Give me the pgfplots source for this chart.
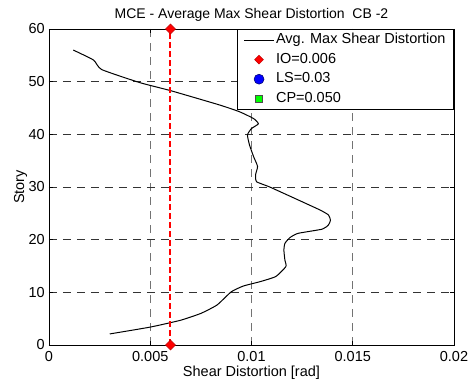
\documentclass[border=0pt]{standalone}
\usepackage{fontspec}
\setmainfont{Liberation Sans}
\usepackage{pgfplots}
\pgfplotsset{compat=1.18}
\pgfplotsset{
  linelegend/.style={legend image code/.code={\draw[##1] (0pt,0pt) -- (30pt,0pt);}},
  marklegend/.style={legend image code/.code={\draw[##1] plot coordinates {(15pt,0pt)};}},
}
\newcommand{\fs}{\fontsize{14.5}{17}\selectfont}
\begin{document}
\begin{tikzpicture}
\begin{axis}[
  scale only axis,
  width=405pt, height=316pt,
  xmin=0, xmax=0.02, ymin=0, ymax=60,
  xtick={0,0.005,0.01,0.015,0.02},
  xticklabels={0,0.005,0.01,0.015,0.02},
  ytick={0,10,20,30,40,50,60},
  /pgf/number format/assume math mode=true,
  tick label style={font=\fs},
  xticklabel style={anchor=base, yshift=-16.5pt, inner xsep=0pt},
  yticklabel style={inner xsep=0pt, xshift=-4pt},
  every axis title/.style={at={(axis description cs:0.5,1.0332)}, anchor=base, font=\fontsize{14}{17}\selectfont},
  every axis x label/.style={at={(axis description cs:0.5,-0.1006)}, anchor=base, font=\fs},
  every axis y label/.style={at={(axis description cs:-0.0617,0.5)}, rotate=90, anchor=base, font=\fs},
  title={MCE - Average Max Shear Distortion\ \ CB -2},
  xlabel={Shear Distortion [rad]},
  ylabel={Story},
  tick align=inside,
  major tick length=4pt,
  tick style={black, line width=0.6pt},
  axis line style={black, line width=0.9pt},
  grid=major,
  major x grid style={black!55, dash pattern=on 8pt off 6pt, line width=0.8pt},
  major y grid style={black!80, dash pattern=on 8pt off 6pt, line width=0.8pt},
  scaled x ticks=false,
  clip=false,
  legend style={at={(1,1)}, anchor=north east, draw=black, line width=0.9pt, fill=white,
    font=\fs, row sep=2pt, inner xsep=6.5pt, inner ysep=2pt,
    nodes={inner xsep=1.5pt, inner ysep=2pt, text height=10.5pt, text depth=3pt}},
  legend cell align=left,
]
\path (rel axis cs:0,0) -- ++(-49pt,-41pt);
\path (rel axis cs:1,1) -- ++(15pt,29pt);
\addplot[black, line width=1pt, smooth, tension=0.3, linelegend] table {
x y
0.0030 2.1
0.0050 3.4
0.0065 4.7
0.0075 6.0
0.0083 7.6
0.0090 10.1
0.0096 11.2
0.0104 12.0
0.0112 13.0
0.0117 14.9
0.01165 16.1
0.0116 18.0
0.01165 19.3
0.0119 20.4
0.0123 21.2
0.0135 22.0
0.0138 22.8
0.0139 23.7
0.0138 24.7
0.0134 25.6
0.0125 27.2
0.0109 30.0
0.01025 31.0
0.0102 32.3
0.0103 33.9
0.0101 35.8
0.0099 38.0
0.0098 39.9
0.0100 41.1
0.01034 42.0
0.0101 43.0
0.0094 44.3
0.0084 45.6
0.0060 48.3
0.0045 49.8
0.0026 52.3
0.0022 54.1
0.0012 56
};
\addlegendentry{Avg. Max Shear Distortion}
\addplot[red, line width=2pt, dash pattern=on 6pt off 3pt, forget plot] coordinates {(0.006,0) (0.006,60)};
\addplot[only marks, mark=square*, mark size=3.5pt,
  mark options={rotate=45, solid, fill=red, draw=red!75!black, line width=0.5pt},
  forget plot] coordinates {(0.006,0) (0.006,60)};
\addlegendimage{only marks, mark=square*, mark size=3.1pt, mark options={rotate=45, fill=red, draw=red!75!black, line width=0.5pt}, marklegend}
\addlegendentry{IO=0.006}
\addlegendimage{only marks, mark=*, mark size=5pt, mark options={fill=blue, draw=blue!40!black, line width=0.5pt}, marklegend}
\addlegendentry{LS=0.03}
\addlegendimage{only marks, mark=square*, mark size=3.5pt, mark options={fill=green, draw=black!70, line width=0.5pt}, marklegend}
\addlegendentry{CP=0.050}
\end{axis}
\end{tikzpicture}
\end{document}
